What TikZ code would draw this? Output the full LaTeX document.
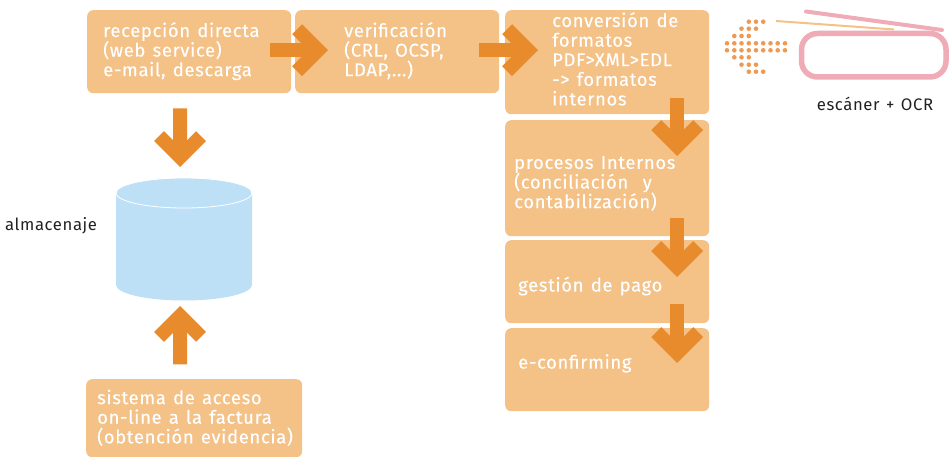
\documentclass[tikz,border=0pt]{standalone}
\usepackage{fontspec}
\setmainfont{Fira Sans}[LetterSpace=3.5,WordSpace=1.3]
\newfontfamily\labfont{Fira Sans}[LetterSpace=3.4,WordSpace=1.3,FakeBold=0.2]
\usetikzlibrary{arrows.meta,calc}
\definecolor{boxc}{HTML}{F4C187}
\definecolor{arrc}{HTML}{E88B2C}
\definecolor{cylc}{HTML}{BEE0F6}
\definecolor{pinkc}{HTML}{EFABB6}
\definecolor{dotc}{HTML}{EE9A52}
\definecolor{inkc}{HTML}{222222}
\tikzset{
  x=1pt,y=-1pt,
  boxn/.style={fill=boxc,rounded corners=6pt,inner sep=0pt,anchor=north west},
  lab/.style={text=white,font=\labfont\fontsize{18.5}{19.6}\selectfont,align=left,anchor=north west,inner sep=0pt},
  captxt/.style={text=inkc,font=\fontsize{16.7}{18}\selectfont,inner sep=0pt},
  bigarr/.style={draw=arrc,line width=14pt,-{Straight Barb[length=21pt,width=42pt,line width=14pt,line join=miter]}},
}
\newcommand{\mybox}[5]{\node[boxn,minimum width=#4 pt,minimum height=#5 pt] (#1) at (#2,#3) {};}
\begin{document}
\begin{tikzpicture}
\useasboundingbox (0,0) rectangle (952,457);
\mybox{rec}{87}{10}{204}{83}
\mybox{ver}{295}{10}{204}{83}
\mybox{con}{505}{10}{204}{104}
\mybox{pro}{505}{120}{204}{116}
\mybox{ges}{505}{240}{204}{83}
\mybox{eco}{505}{328}{204}{83}
\mybox{sis}{86}{379}{216}{78}
% cylinder
\fill[cylc] (116,193) -- (116,285) arc[start angle=180,end angle=0,x radius=68,y radius=15.5] -- (252,193) -- cycle;
\draw[white,line width=0.8pt,fill=cylc] (184,193) ellipse[x radius=68,y radius=15];
\coordinate (cyl) at (184,240);
% labels
\node[lab] at (103,22) {recepción directa\\(web service)\\e-mail, descarga};
\node[lab] at (344,22) {verificación\\(CRL, OCSP,\\LDAP,...)};
\node[lab] at (552,12) {conversión de\\formatos\\PDF>XML>EDL\\-> formatos\\internos};
\node[lab] at (514,156) {procesos Internos\\(conciliación\ \ y\\contabilización)};
\node[lab] at (518,276.5) {gestión de pago};
\node[lab] at (518,354) {e-confirming};
\node[lab] at (97,389.5) {sistema de acceso\\on-line a la factura\\(obtención evidencia)};
\node[captxt,anchor=west] (alm) at (5,226) {almacenaje};
\node[captxt,anchor=center] (esc) at (875,104) {escáner + OCR};
% arrows
\draw[bigarr] ($(rec.east)+(-21,-1.5)$) -- ($(ver.west)+(33,-1.5)$);
\draw[bigarr] ($(ver.east)+(-20,-1.5)$) -- ($(con.west)+(33,-12)$);
\draw[bigarr] ($(con.south)+(70,-16)$) -- ($(pro.north)+(70,36)$);
\draw[bigarr] ($(pro.south)+(70,-18)$) -- ($(ges.north)+(70,37)$);
\draw[bigarr] ($(ges.south)+(70,-19)$) -- ($(eco.north)+(70,35)$);
\draw[bigarr] ($(rec.south)+(-9,15)$) -- ($(cyl)+(-4,-73)$);
\draw[bigarr] ($(sis.south)+(-14,-93)$) -- ($(cyl)+(-4,66)$);
% scanner
\draw[pinkc,line width=5.5pt,rounded corners=16pt] (801.5,33.5) rectangle (946,77);
\draw[pinkc,line width=4pt,line cap=round] (806,11.5) -- (942,30);
\draw[boxc,line width=2pt] (776,21) -- (894,29.5);
% dotted arrow
\foreach \x/\ya/\yb in {
 727/43.3/50.3, 734.3/43.3/50.3, 741.5/43.3/50.3, 748.8/43.3/50.3, 756/43.3/50.3,
 763.2/43.3/50.3, 770.5/43.3/50.3, 777.7/43.3/50.3, 785/43.3/50.3,
 734.3/36/57.3, 741.5/36/57.3, 748.8/36/57.3,
 741.5/28.7/64.7, 748.8/28.7/64.7, 756/28.7/64.7,
 748.8/21.7/71.7, 756/21.7/71.7, 763.2/21.7/71.7}{
  \fill[dotc] (\x,\ya) circle[radius=2.3];
  \fill[dotc] (\x,\yb) circle[radius=2.3];
}
\end{tikzpicture}
\end{document}
